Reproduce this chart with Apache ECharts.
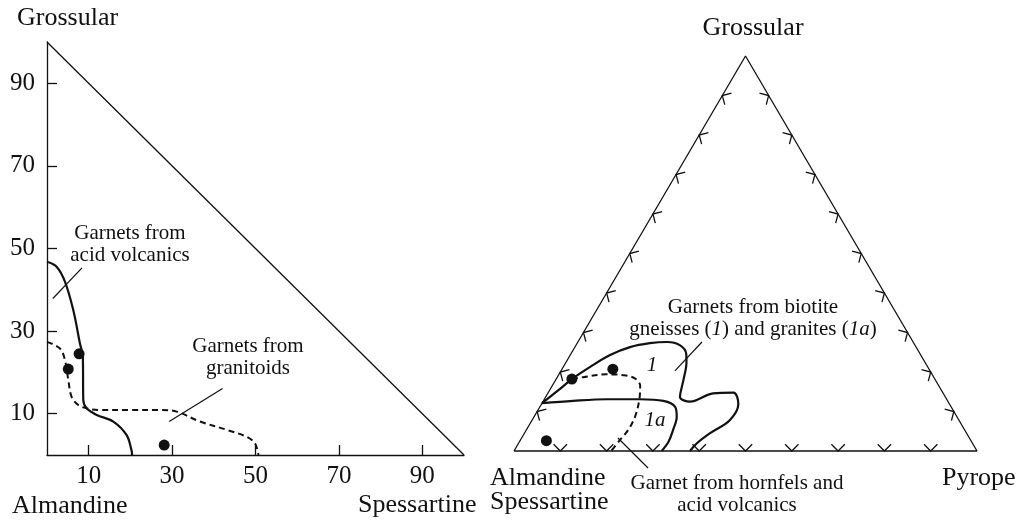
<!DOCTYPE html>
<html>
<head>
<meta charset="utf-8">
<script src="https://cdn.jsdelivr.net/npm/echarts@6/dist/echarts.min.js"></script>
<style>
  html, body { margin: 0; padding: 0; background: #fff; }
  #chart { width: 1019px; height: 520px; }
</style>
</head>
<body>
<div id="chart"></div>
<script>
// ---- Left diagram: Spessartine (x) vs Grossular (y), mol %; remainder is Almandine ----
const leftTicks = [10, 30, 50, 70, 90];
const leftFrame = [[0, 100], [100, 0]];
const acidVolcanicsField = [[0, 46.8], [2.3, 45.6], [4.3, 42.0], [6.3, 35.1], [7.9, 27.0], [8.6, 23.8],
  [8.7, 13.3], [9.5, 11.3], [11.9, 9.7], [15.9, 8.1], [19.1, 4.8], [20.3, 1.0], [20.4, 0]];
const granitoidField = [[0, 27.4], [3.1, 25.8], [4.3, 23.0], [5.1, 18.2], [5.9, 14.1], [7.5, 12.1],
  [9.5, 11.3], [12.7, 10.9], [20, 10.9], [27.1, 10.9], [31.1, 10.5], [36.7, 8.1], [43.1, 6.1],
  [47.9, 4.4], [49.9, 2.8], [50.7, 0]];
const leftSamples = [[7.7, 24.5], [5.1, 20.8], [28.1, 2.4]];
const leftLeaders = [[[8.4, 45.3], [1.4, 37.9]], [[42.1, 16.1], [29.3, 8.1]]];

// ---- Right diagram: ternary (Almandine+Spessartine) – Pyrope – Grossular, points as [Pyrope, Grossular] ----
const ternaryTicks = [10, 20, 30, 40, 50, 60, 70, 80, 90];
const ternaryVertices = [[0, 0], [100, 0], [0, 100]];
const gneissField = [[0, 12.1], [1.9, 15.4], [3.4, 18.2], [5.8, 21.3], [8.6, 24.3], [11.9, 26.3],
  [15.7, 27.3], [19.3, 27.6], [22.4, 26.8], [24.9, 24.6], [26.0, 22.5], [27.6, 18.0], [29.0, 13.7],
  [31.8, 12.5], [35.7, 14.6], [40.0, 14.8], [42.5, 11.9], [42.7, 7.8], [40.1, 4.5], [38.5, 1.9], [38.0, 0]];
const graniteField = [[0, 12.1], [6.4, 12.7], [13.5, 13.1], [20.7, 13.1], [25.9, 12.7], [29.2, 11.2],
  [30.8, 8.7], [31.7, 5.3], [32.2, 2.4], [31.9, 0]];
const hornfelsField = [[3.4, 18.2], [5.6, 18.7], [10.3, 19.4], [14.0, 19.2], [16.9, 18.4], [19.0, 16.5],
  [20.6, 12.9], [21.8, 8.7], [22.0, 5.3], [21.5, 2.8], [21.0, 0]];
const rightSamples = [[3.4, 18.2], [11.0, 20.7], [5.7, 2.6]];
const rightLeaders = [[[26.8, 27.6], [24.6, 20.3]], [[20.8, 3.3], [31.1, -4.3]]];

// ternary [Pyrope, Grossular] -> cartesian [x, height]
const project = ([p, g]) => [p + g / 2, g];

const INK = '#111';
const SERIF = '"Liberation Serif", "Times New Roman", serif';

// tick positions along each side of the triangle, with side index
const sideTicks = [];
ternaryTicks.forEach(v => {
  sideTicks.push([...project([v, 0]), 0]);        // base: Alm+Sps -> Pyrope
  sideTicks.push([...project([100 - v, v]), 1]);  // right: Pyrope -> Grossular
  sideTicks.push([...project([0, v]), 2]);        // left: Grossular -> Alm+Sps
});

const lineSeries = (data, xi, opts) => Object.assign({
  type: 'line', xAxisIndex: xi, yAxisIndex: xi, data: data,
  showSymbol: false, symbol: 'none', clip: false, silent: true,
  lineStyle: { color: INK, width: 1.3 }
}, opts || {});

const dots = (data, xi) => ({
  type: 'scatter', xAxisIndex: xi, yAxisIndex: xi, data: data, symbolSize: 11,
  itemStyle: { color: INK, opacity: 1 }, silent: true, z: 5
});

const series = [];
// left frame (hypotenuse) and fields
series.push(lineSeries(leftFrame, 0));
series.push(lineSeries(acidVolcanicsField, 0, { smooth: 0.35, lineStyle: { color: INK, width: 2.2 } }));
series.push(lineSeries(granitoidField, 0, { smooth: 0.35, lineStyle: { color: INK, width: 2, type: [6, 4] } }));
leftLeaders.forEach(l => series.push(lineSeries(l, 0, { lineStyle: { color: INK, width: 1.2 } })));
series.push(dots(leftSamples, 0));

// right triangle
const tri = ternaryVertices.concat([ternaryVertices[0]]).map(project);
series.push(lineSeries(tri, 1));
series.push(lineSeries(gneissField.map(project), 1, { smooth: 0.35, lineStyle: { color: INK, width: 2.2 } }));
series.push(lineSeries(graniteField.map(project), 1, { smooth: 0.35, lineStyle: { color: INK, width: 2.2 } }));
series.push(lineSeries(hornfelsField.map(project), 1, { smooth: 0.35, lineStyle: { color: INK, width: 2, type: [6, 4] } }));
rightLeaders.forEach(l => series.push(lineSeries(l.map(project), 1, { lineStyle: { color: INK, width: 1.2 } })));
series.push(dots(rightSamples.map(project), 1));

// chevron ticks on the triangle sides, opening toward the interior
series.push({
  type: 'custom', xAxisIndex: 1, yAxisIndex: 1, data: sideTicks, silent: true,
  encode: { x: 0, y: 1 },
  renderItem: function (params, api) {
    const p = api.coord([api.value(0), api.value(1)]);
    const side = api.value(2);
    const v = tri.slice(0, 3).map(c => api.coord(c));
    const a = v[side], b = v[(side + 1) % 3];
    const c = [(v[0][0] + v[1][0] + v[2][0]) / 3, (v[0][1] + v[1][1] + v[2][1]) / 3];
    const dx = b[0] - a[0], dy = b[1] - a[1];
    const len = Math.hypot(dx, dy);
    let nx = -dy / len, ny = dx / len;
    if ((c[0] - p[0]) * nx + (c[1] - p[1]) * ny < 0) { nx = -nx; ny = -ny; }
    const arm = 9.5, k = Math.SQRT1_2;
    const a1 = [p[0] + arm * (nx * k - ny * k), p[1] + arm * (nx * k + ny * k)];
    const a2 = [p[0] + arm * (nx * k + ny * k), p[1] + arm * (-nx * k + ny * k)];
    return {
      type: 'polyline',
      shape: { points: [a1, p, a2] },
      style: { stroke: INK, lineWidth: 1.3, fill: null }
    };
  }
});

const txt = (x, y, text, opts) => ({
  type: 'text', x: x, y: y, silent: true,
  style: Object.assign({
    text: text, fill: INK, fontFamily: SERIF, fontSize: 26,
    align: 'left', verticalAlign: 'middle'
  }, opts || {})
});
const note = (x, y, text, rich) => txt(x, y, text, {
  fontSize: 21, lineHeight: 22, align: 'center',
  rich: rich || {}
});
const italic = { i: { fontStyle: 'italic', fontFamily: SERIF, fontSize: 21, fill: INK } };

const graphic = [
  // left diagram titles
  txt(17, 18, 'Grossular'),
  txt(12, 506, 'Almandine'),
  txt(358, 505, 'Spessartine'),
  // right diagram titles
  txt(753, 28, 'Grossular', { align: 'center' }),
  txt(490, 478, 'Almandine'),
  txt(490, 502, 'Spessartine'),
  txt(942, 478, 'Pyrope'),
  // field notes
  note(130, 244, 'Garnets from\nacid volcanics'),
  note(248, 357, 'Garnets from\ngranitoids'),
  note(753, 318, 'Garnets from biotite\ngneisses ({i|1}) and granites ({i|1a})', italic),
  note(737, 494, 'Garnet from hornfels and\nacid volcanics'),
  txt(652, 365, '1', { fontSize: 21, fontStyle: 'italic', align: 'center' }),
  txt(655, 420, '1a', { fontSize: 21, fontStyle: 'italic', align: 'center' })
];

const valueAxis = (grid, show, extra) => Object.assign({
  type: 'value', gridIndex: grid, min: 0, max: 100, show: show,
  splitLine: { show: false }
}, extra || {});

const tickStyle = {
  axisLine: { show: true, lineStyle: { color: INK, width: 1.3 } },
  axisTick: { show: true, inside: true, length: 10, customValues: leftTicks, lineStyle: { color: INK, width: 1.3 } }
};

const chart = echarts.init(document.getElementById('chart'), null, { renderer: 'canvas' });
chart.setOption({
  animation: false,
  backgroundColor: '#fff',
  grid: [
    { left: 47, top: 42, width: 417, height: 413 },
    { left: 514, top: 56, width: 463, height: 395 }
  ],
  xAxis: [
    valueAxis(0, true, Object.assign({}, tickStyle, {
      axisLabel: { customValues: leftTicks, margin: 9, color: INK, fontFamily: SERIF, fontSize: 25 }
    })),
    valueAxis(1, false)
  ],
  yAxis: [
    valueAxis(0, true, Object.assign({}, tickStyle, {
      axisLabel: { customValues: leftTicks, margin: 12, color: INK, fontFamily: SERIF, fontSize: 25 }
    })),
    valueAxis(1, false)
  ],
  series: series,
  graphic: graphic
});
</script>
</body>
</html>
